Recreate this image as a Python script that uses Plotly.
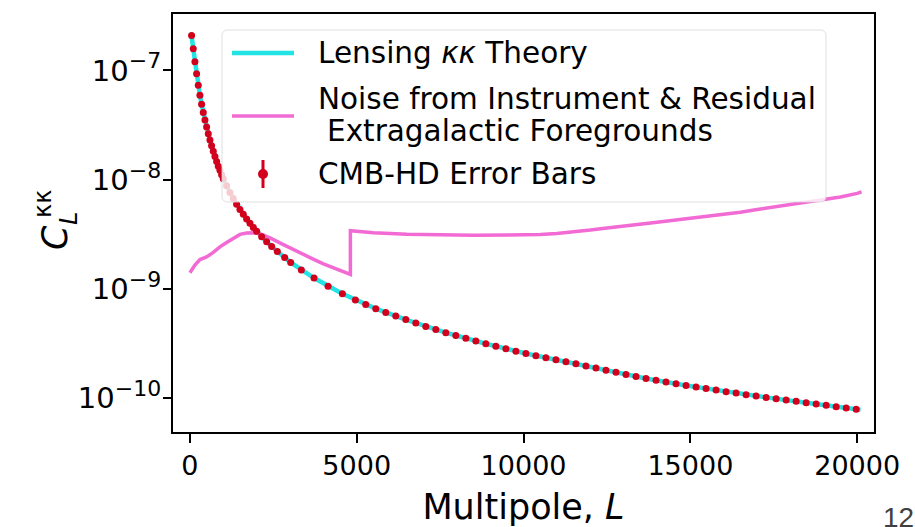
import math
import plotly.graph_objects as go

# Lensing convergence power spectrum (theory curve)
ell_theory = [20, 50, 100, 150, 200, 250, 300, 350, 400, 450, 500, 600, 700, 800, 900, 1000,
              1200, 1400, 1600, 1800, 2000, 2300, 2620, 3020, 3720, 4570, 5570, 6470, 7670,
              8870, 10070, 11270, 12470, 13670, 14870, 16070, 17270, 18470, 19670, 20100]
clkk_theory = [2.21e-7, 2.09e-7, 1.58e-7, 1.20e-7, 9.33e-8, 7.33e-8, 5.92e-8, 4.90e-8, 4.12e-8,
               3.52e-8, 3.03e-8, 2.31e-8, 1.82e-8, 1.47e-8, 1.22e-8, 1.02e-8,
               7.64e-9, 5.97e-9, 4.82e-9, 3.99e-9, 3.37e-9, 2.70e-9, 2.21e-9, 1.75e-9, 1.26e-9,
               9.04e-10, 6.61e-10, 5.26e-10, 3.99e-10, 3.16e-10, 2.57e-10, 2.16e-10, 1.81e-10,
               1.52e-10, 1.31e-10, 1.15e-10, 1.02e-10, 9.12e-11, 8.17e-11, 7.85e-11]

# Noise from instrument and residual extragalactic foregrounds
ell_noise = [0, 150, 300, 500, 700, 900, 1100, 1300, 1500, 1700, 1900, 2100, 2400, 2800, 3200,
             3600, 4000, 4400, 4810, 4810, 5500, 6500, 7500, 8500, 9500, 10000, 10500, 11000,
             11500, 12000, 12500, 13000, 13500, 14000, 14500, 15000, 15500, 16000, 16500,
             17000, 17500, 18000, 18500, 19000, 19500, 20000, 20130]
nlkk_noise = [1.41e-9, 1.66e-9, 1.86e-9, 1.97e-9, 2.16e-9, 2.43e-9, 2.66e-9, 2.92e-9, 3.16e-9,
              3.26e-9, 3.27e-9, 3.20e-9, 2.94e-9, 2.55e-9, 2.21e-9, 1.94e-9, 1.70e-9, 1.51e-9,
              1.36e-9, 3.42e-9, 3.27e-9, 3.17e-9, 3.11e-9, 3.10e-9, 3.12e-9, 3.13e-9, 3.16e-9,
              3.22e-9, 3.32e-9, 3.46e-9, 3.62e-9, 3.79e-9, 3.94e-9, 4.09e-9, 4.26e-9, 4.43e-9,
              4.59e-9, 4.77e-9, 5.04e-9, 5.33e-9, 5.61e-9, 5.91e-9, 6.21e-9, 6.53e-9, 6.94e-9,
              7.50e-9, 7.73e-9]

# Binned CMB-HD band powers
ell_bins = [50, 100, 150, 200, 250, 300, 350, 400, 450, 500, 550, 600, 650, 700, 750, 800, 850,
            900, 950, 1000, 1100, 1200, 1300, 1400, 1500, 1600, 1700, 1800, 1900, 2000, 2150,
            2300, 2450, 2620, 2840, 3020, 3340, 3720, 4140, 4570, 4960, 5270, 5570, 5870, 6170,
            6470, 6770, 7070, 7370, 7670, 7970, 8270, 8570, 8870, 9170, 9470, 9770, 10070,
            10370, 10670, 10970, 11270, 11570, 11870, 12170, 12470, 12770, 13070, 13370, 13670,
            13970, 14270, 14570, 14870, 15170, 15470, 15770, 16070, 16370, 16670, 16970, 17270,
            17570, 17870, 18170, 18470, 18770, 19070, 19370, 19670, 19970]
clkk_bins = [2.09e-7, 1.58e-7, 1.20e-7, 9.33e-8, 7.33e-8, 5.92e-8, 4.90e-8, 4.12e-8, 3.52e-8,
             3.03e-8, 2.64e-8, 2.31e-8, 2.04e-8, 1.82e-8, 1.63e-8, 1.47e-8, 1.33e-8, 1.22e-8,
             1.11e-8, 1.02e-8, 8.79e-9, 7.64e-9, 6.73e-9, 5.97e-9, 5.35e-9, 4.82e-9, 4.38e-9,
             3.99e-9, 3.66e-9, 3.37e-9, 3.01e-9, 2.70e-9, 2.45e-9, 2.21e-9, 1.94e-9, 1.75e-9,
             1.49e-9, 1.26e-9, 1.06e-9, 9.04e-10, 7.94e-10, 7.21e-10, 6.61e-10, 6.10e-10,
             5.66e-10, 5.26e-10, 4.89e-10, 4.55e-10, 4.26e-10, 3.99e-10, 3.76e-10, 3.54e-10,
             3.34e-10, 3.16e-10, 2.99e-10, 2.84e-10, 2.70e-10, 2.57e-10, 2.45e-10, 2.35e-10,
             2.25e-10, 2.16e-10, 2.07e-10, 1.98e-10, 1.89e-10, 1.81e-10, 1.73e-10, 1.65e-10,
             1.58e-10, 1.52e-10, 1.46e-10, 1.41e-10, 1.36e-10, 1.31e-10, 1.27e-10, 1.23e-10,
             1.19e-10, 1.15e-10, 1.12e-10, 1.08e-10, 1.05e-10, 1.02e-10, 9.91e-11, 9.64e-11,
             9.38e-11, 9.12e-11, 8.87e-11, 8.63e-11, 8.39e-11, 8.17e-11, 7.94e-11]

x_ticks = [0, 5000, 10000, 15000, 20000]
x_ticktext = ["0", "5000", "10000", "15000", "20000"]
y_ticks = [1e-10, 1e-9, 1e-8, 1e-7]
y_exponents = ["−10", "−9", "−8", "−7"]
legend_labels = ["Lensing <i>κκ</i> Theory", "Noise from Instrument & Residual",
                 "Extragalactic Foregrounds", "CMB-HD Error Bars"]

CYAN = "#22e4e4"
PINK = "#f26ad4"
RED = "#d2001c"
FONT = "DejaVu Sans"

W, H = 915, 527
ML, MR, MT, MB = 173, 41, 14, 95
PW, PH = W - ML - MR, H - MT - MB
Y_RANGE = [-10.308, -6.484]

y_ticktext = [f"10<sup><span style='font-size:22px'>{e}</span></sup>" for e in y_exponents]


def px(x):
    return (x - ML) / PW


def py(y):
    return (H - MB - y) / PH


fig = go.Figure()
fig.add_trace(go.Scatter(x=ell_theory, y=clkk_theory, mode="lines",
                         line=dict(color=CYAN, width=4.5), showlegend=False))
fig.add_trace(go.Scatter(x=ell_noise, y=nlkk_noise, mode="lines",
                         line=dict(color=PINK, width=3.5), showlegend=False))
fig.add_trace(go.Scatter(x=ell_bins, y=clkk_bins, mode="markers",
                         marker=dict(color=RED, size=7, line=dict(width=0)),
                         showlegend=False))

# legend frame and handles
x0, x1, y0, y1, r = 222, 826, 30, 202, 6
path = (f"M {px(x0 + r)},{py(y0)} L {px(x1 - r)},{py(y0)} "
        f"Q {px(x1)},{py(y0)} {px(x1)},{py(y0 + r)} L {px(x1)},{py(y1 - r)} "
        f"Q {px(x1)},{py(y1)} {px(x1 - r)},{py(y1)} L {px(x0 + r)},{py(y1)} "
        f"Q {px(x0)},{py(y1)} {px(x0)},{py(y1 - r)} L {px(x0)},{py(y0 + r)} "
        f"Q {px(x0)},{py(y0)} {px(x0 + r)},{py(y0)} Z")
shapes = [
    dict(type="path", path=path, xref="paper", yref="paper", layer="above",
         fillcolor="rgba(255,255,255,0.8)", line=dict(color="rgba(215,215,215,0.8)", width=1)),
    dict(type="line", xref="paper", yref="paper", x0=px(232), x1=px(294), y0=py(53), y1=py(53),
         line=dict(color=CYAN, width=4.5), layer="above"),
    dict(type="line", xref="paper", yref="paper", x0=px(232), x1=px(294), y0=py(116), y1=py(116),
         line=dict(color=PINK, width=3.5), layer="above"),
    dict(type="line", xref="paper", yref="paper", x0=px(263), x1=px(263), y0=py(160), y1=py(188),
         line=dict(color=RED, width=3), layer="above"),
    dict(type="circle", xref="paper", yref="paper", x0=px(258), x1=px(268), y0=py(169), y1=py(179),
         fillcolor=RED, line=dict(color=RED, width=0), layer="above"),
]

# minor ticks of the log axis: 2..9 within each decade, outside the left spine
for e in range(-11, -6):
    for m in range(2, 10):
        lv = math.log10(m) + e
        if Y_RANGE[0] < lv < Y_RANGE[1]:
            shapes.append(dict(type="line", xref="paper", yref="y", x0=px(167.5), x1=px(172.5),
                               y0=lv, y1=lv, line=dict(color="black", width=1.2),
                               layer="above"))

annotations = []
for text, xx, yy in [(legend_labels[0], 316, 53), (legend_labels[1], 316, 99),
                     (legend_labels[2], 325, 131), (legend_labels[3], 316, 174)]:
    annotations.append(dict(text=text, x=px(xx), y=py(yy), xref="paper", yref="paper",
                            xanchor="left", yanchor="middle", showarrow=False,
                            font=dict(family=FONT, size=29.5, color="black")))

# y-axis label C_L^{κκ}
annotations += [
    dict(text="<i>C</i>", x=px(33), y=py(238), xref="paper", yref="paper", textangle=-90,
         showarrow=False, font=dict(family=FONT, size=35, color="black")),
    dict(text="κκ", x=px(27), y=py(204), xref="paper", yref="paper", textangle=-90,
         showarrow=False, font=dict(family=FONT, size=24, color="black")),
    dict(text="<i>L</i>", x=px(53), y=py(219), xref="paper", yref="paper", textangle=-90,
         showarrow=False, font=dict(family=FONT, size=24, color="black")),
    dict(text="12", x=px(898), y=py(500), xref="paper", yref="paper", showarrow=False,
         xanchor="center", yanchor="top",
         font=dict(family="Liberation Sans", size=28, color="#404040")),
]

axis_line = dict(showline=True, linewidth=2, linecolor="black", mirror=True,
                 showgrid=False, zeroline=False, automargin=False)

fig.update_layout(
    width=W, height=H, margin=dict(l=ML, r=MR, t=MT, b=MB),
    paper_bgcolor="white", plot_bgcolor="white",
    shapes=shapes, annotations=annotations,
    xaxis=dict(range=[-507, 20504], tickvals=x_ticks, ticktext=x_ticktext, ticks="outside",
               ticklen=9, tickwidth=1.6, tickcolor="black",
               tickfont=dict(family=FONT, size=27, color="black"),
               title=dict(text="Multipole, <i>L</i>", standoff=22,
                          font=dict(family=FONT, size=35, color="black")),
               **axis_line),
    yaxis=dict(type="log", range=Y_RANGE, tickvals=y_ticks, ticktext=y_ticktext,
               ticks="outside", ticklen=8, tickwidth=1.6, tickcolor="black",
               ticklabelstandoff=-4,
               tickfont=dict(family=FONT, size=29, color="black"), **axis_line),
)

fig.write_html("out.html")
